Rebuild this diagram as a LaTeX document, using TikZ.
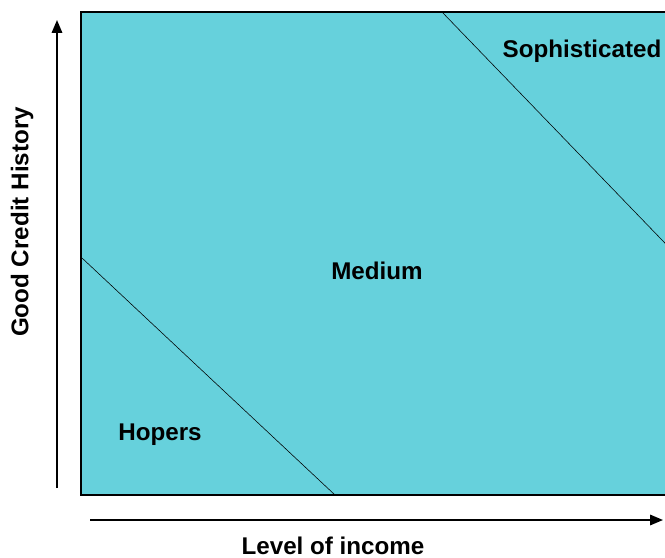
\documentclass[tikz,border=0pt]{standalone}
\usepackage{fontspec}
\setmainfont{Liberation Sans}
\usetikzlibrary{arrows.meta}
\definecolor{segfill}{RGB}{102,209,220}
\begin{document}
\begin{tikzpicture}[x=0.025cm,y=-0.025cm,
    segment/.style ={font=\bfseries\fontsize{17.2}{20}\selectfont, inner sep=0pt},
    axis/.style ={line width=1.1pt, -{Triangle[length=0.32cm,width=0.26cm]}}]
   \useasboundingbox (0,0) rectangle (665,558);
   % segment plane
   \fill[segfill] (81,12) rectangle (672,495);
   \draw[line width=0.9pt] (672,12) -- (81,12) -- (81,495) -- (672,495);
   \draw (82,258) -- (335,495);
   \draw (442,12) -- (672,250.4);
   \node[segment] (S) at (582,51)  {Sophisticated};
   \node[segment] (M) at (377,271) {Medium};
   \node[segment] (H) at (160,435) {Hopers};
   % axes
   \coordinate (O1) at (57,488);
   \coordinate (Y)  at (57,20);
   \coordinate (O2) at (90,520);
   \coordinate (X)  at (663,520);
   \draw[axis] (O1) -- (Y);
   \draw[axis] (O2) -- (X);
   \node[segment] (XL) at (333,546) {Level of income};
   \node[segment, rotate=90] (YL) at (22,222) {Good Credit History};
 \end{tikzpicture}
\end{document}
